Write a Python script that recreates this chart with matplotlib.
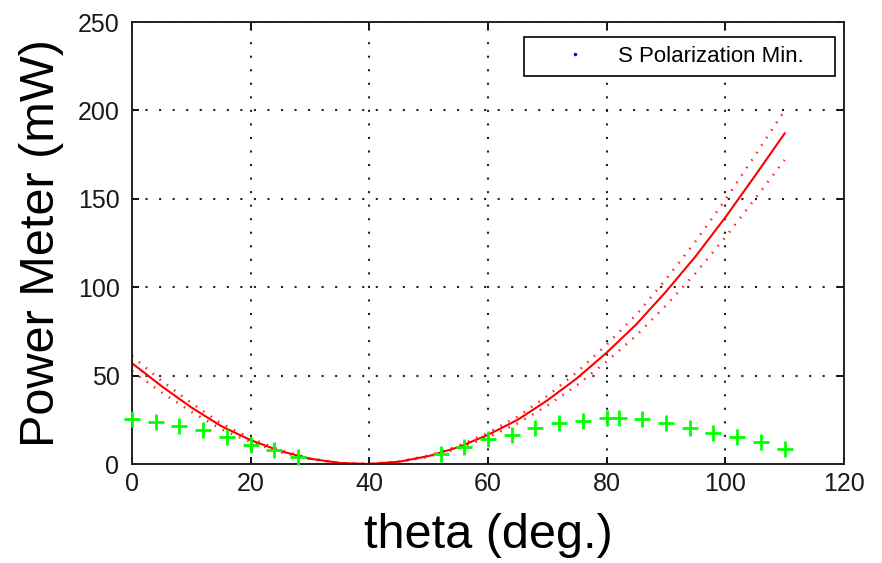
import matplotlib.pyplot as plt

# fitted curve and its upper / lower bounds
theta_fit = [0, 5, 10, 15, 20, 25, 30, 35, 40, 45, 50, 55,
             60, 65, 70, 75, 80, 85, 90, 95, 100, 105, 110]
power_fit = [57, 44, 32, 21.5, 13.5, 7.3, 3, 0.6, 0, 1.3, 4.5, 9.5,
             16.5, 25, 36, 48.5, 63, 79, 97.5, 117.5, 139.5, 163, 187]
power_upper = [61, 47, 34.5, 23, 14.5, 7.8, 3.2, 0.6, 0, 1.4, 4.8, 10.2,
               17.7, 26.8, 38.5, 52, 67.5, 84.5, 104.5, 126, 149.5, 174.5, 200]
power_lower = [52.5, 40.5, 29.5, 19.8, 12.4, 6.7, 2.8, 0.5, 0, 1.2, 4.1, 8.7,
               15.2, 23, 33, 44.6, 58, 72.7, 89.7, 108, 128.3, 150, 172]

# measured points (green crosses)
theta_meas = [0, 4, 8, 12, 16, 20, 24, 28, 52, 56, 60, 64, 68, 72, 76,
              80, 82, 86, 90, 94, 98, 102, 106, 110]
power_meas = [25.4, 23.9, 21.4, 19.2, 15, 10.7, 7.9, 3.8, 5.5, 9.8, 13.9, 16.4,
              20.5, 23, 24.3, 25.8, 25.8, 25.2, 23.3, 20.1, 17.7, 15, 12.6, 8.3]

x_ticks = [0, 20, 40, 60, 80, 100, 120]
y_ticks = [0, 50, 100, 150, 200, 250]

plt.rcParams['font.family'] = ['Liberation Sans', 'DejaVu Sans']

fig = plt.figure(figsize=(8.82, 5.63), dpi=100, facecolor='white')
ax = fig.add_axes([132 / 882, 1 - 464 / 563, 712 / 882, 442 / 563])

ax.plot(theta_fit, power_upper, color='#ff2020', lw=1.8, linestyle=(0, (0.6, 3.0)))
ax.plot(theta_fit, power_lower, color='#ff2020', lw=1.8, linestyle=(0, (0.6, 3.0)))
ax.plot(theta_fit, power_fit, color='#ff0000', lw=1.5)
ax.plot(theta_meas, power_meas, '+', color='#00ff00', markersize=12,
        markeredgewidth=2.0, clip_on=False, zorder=5)

# legend entry as in the original (blue dot)
ax.plot([], [], '.', color='blue', markersize=3, label='S Polarization Min.')
leg = ax.legend(loc='upper left', bbox_to_anchor=(0.551, 0.966, 0.437, 0.0),
                mode='expand', borderaxespad=0, borderpad=0.4, handlelength=3.8,
                handletextpad=0.0, fancybox=False, framealpha=1, fontsize=16)
leg.get_frame().set_edgecolor('black')
leg.get_frame().set_linewidth(1.2)

ax.set_xlim(0, 120)
ax.set_ylim(0, 250)
ax.set_xticks(x_ticks)
ax.set_yticks(y_ticks)
ax.grid(True, color='#222222', linestyle=(0, (1, 5.5)), linewidth=1.5)
ax.set_axisbelow(True)

ax.tick_params(direction='in', length=5, width=1.3, top=True, right=True,
               labelsize=18, labelcolor='#1a1a1a')
ax.tick_params(axis='x', pad=6)
ax.tick_params(axis='y', pad=9)
for s in ax.spines.values():
    s.set_linewidth(1.4)
    s.set_color('#222222')

ax.set_xlabel('theta (deg.)', fontsize=35, labelpad=12)
ax.set_ylabel('Power Meter (mW)', fontsize=35, labelpad=10)

fig.savefig('out.png', dpi=100)
